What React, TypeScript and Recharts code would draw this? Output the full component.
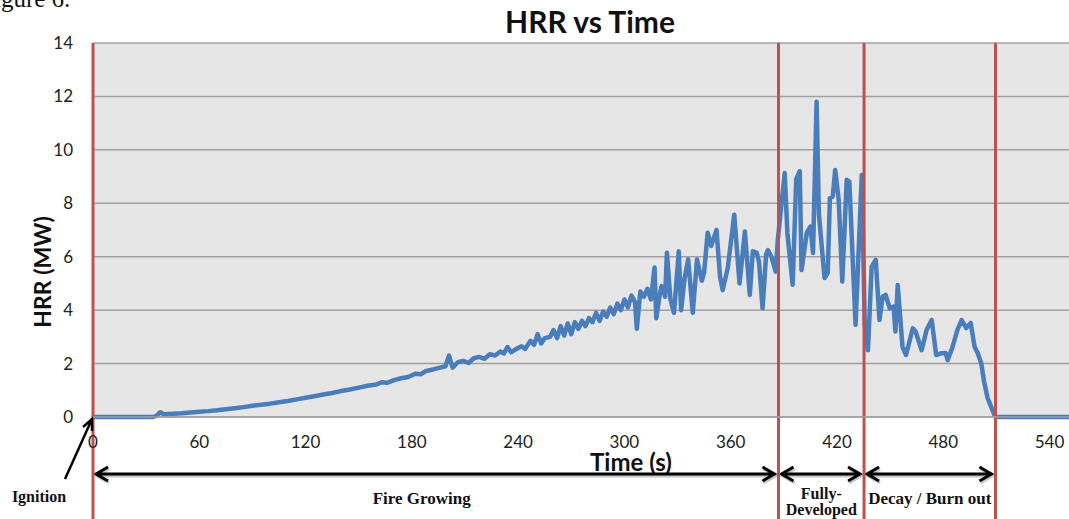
import { LineChart, Line, XAxis, YAxis, CartesianGrid, ReferenceLine, ReferenceArea, Customized } from "recharts";

// time (s) and heat release rate (MW)
const TIME = [
  0, 34, 36, 38, 40, 45, 50, 55, 60, 65, 70, 75, 80, 85, 90, 95, 100, 105, 110, 115,
  120, 125, 130, 135, 140, 145, 150, 155, 160, 163, 166, 170, 174, 178, 182, 185, 188, 192, 196, 199,
  201, 203, 206, 209, 212, 215, 218, 221, 224, 227, 230, 232, 234, 236, 239, 242, 244, 247, 249, 251,
  253, 255, 258, 260, 262, 264, 266, 268, 270, 272, 274, 276, 278, 280, 282, 284, 286, 288, 290, 292,
  294, 296, 298, 300, 302, 304, 306, 307, 309, 311, 313, 315, 317, 318, 320, 321, 323, 324, 326, 328,
  330.7, 332, 334, 336, 338.6, 341, 343.7, 345, 347, 349, 352, 354, 355.5, 358.4, 362, 365, 368, 370.8, 372.5, 374.7,
  376, 378, 380, 381, 383, 385.4, 386.6, 390.5, 392, 395, 397, 399, 400, 403, 405, 406.5, 408.5, 409.8, 413, 414.8,
  416, 417.6, 419, 421, 423, 425.5, 427, 430.5, 434, 435.7, 437.5, 439.6, 441.9, 444, 445.8, 447.5, 449.8, 452, 453, 454.3,
  457, 459, 462.8, 464.4, 467.8, 470.6, 473.5, 476, 479, 481.4, 482.5, 485, 488, 490.4, 493, 495.5, 497.7, 499.5, 501.5, 503,
  505, 508, 509.5, 551,
];
const HRR = [
  0, 0, 0.05, 0.18, 0.1, 0.12, 0.14, 0.17, 0.2, 0.22, 0.25, 0.29, 0.33, 0.37, 0.42, 0.46, 0.5, 0.55, 0.6, 0.66,
  0.72, 0.78, 0.84, 0.9, 0.97, 1.03, 1.1, 1.17, 1.22, 1.3, 1.28, 1.38, 1.45, 1.5, 1.62, 1.6, 1.72, 1.78, 1.85, 1.9,
  2.3, 1.85, 2.05, 2.1, 2.02, 2.2, 2.25, 2.18, 2.35, 2.3, 2.45, 2.38, 2.62, 2.42, 2.55, 2.65, 2.55, 2.85, 2.7, 3.1,
  2.75, 2.95, 3.0, 3.25, 2.95, 3.4, 3.05, 3.5, 3.1, 3.55, 3.3, 3.6, 3.4, 3.7, 3.55, 3.9, 3.6, 3.95, 3.75, 4.1,
  3.85, 4.25, 4.0, 4.4, 4.1, 4.55, 4.3, 3.3, 4.7, 4.5, 4.8, 4.4, 5.6, 3.7, 4.6, 4.9, 4.5, 6.15, 4.4, 3.9,
  6.2, 4.0, 5.2, 5.9, 3.9, 5.9, 5.1, 5.4, 6.9, 6.4, 7.0, 5.25, 4.75, 5.6, 7.57, 5.0, 6.94, 4.57, 6.2, 6.15,
  5.8, 4.08, 6.07, 6.25, 6.0, 5.44, 6.63, 9.13, 6.9, 4.95, 8.9, 9.2, 5.5, 6.9, 7.13, 6.14, 11.8, 7.6, 5.2, 5.4,
  8.2, 8.25, 9.25, 8.13, 5.07, 8.88, 8.81, 3.45, 9.06, 3.45, 2.5, 5.63, 5.88, 3.63, 4.5, 4.57, 4.07, 4.13, 3.2, 4.94,
  2.63, 2.32, 3.32, 3.2, 2.5, 3.26, 3.63, 2.32, 2.39, 2.4, 2.13, 2.57, 3.26, 3.63, 3.33, 3.52, 2.63, 2.39, 2.0, 1.35,
  0.72, 0.22, 0, 0,
];

const X_TICKS = [0, 60, 120, 180, 240, 300, 360, 420, 480, 540];
const Y_TICKS = [0, 2, 4, 6, 8, 10, 12, 14];

// phase boundaries (s) and their labels
const BOUNDS = [0, 387, 435.3, 509.5];
const PHASE_LABELS = [["Fire Growing"], ["Fully-", "Developed"], ["Decay / Burn out"]];

const data = TIME.map((t, i) => ({ t, hrr: HRR[i] }));

const RED = "#c0504d";
const BLUE = "#4a7ebb";
const SANS = "Lato, 'Open Sans', sans-serif";
const SERIF = "'Liberation Serif', 'DejaVu Serif', serif";

function chevron(x: number, y: number, dir: 1 | -1) {
  return `M${x - dir * 12},${y - 7} L${x},${y} L${x - dir * 12},${y + 7}`;
}

function PhaseArrow(p: any, i: number) {
  const left = p.x + 3;
  const right = p.x + p.width - 4;
  const y = p.y + p.height + 57;
  const cx = p.x + p.width / 2;
  const lines = PHASE_LABELS[i];
  const d = `M${left},${y} L${right},${y} ${chevron(left, y, -1)} ${chevron(right, y, 1)}`;
  return (
    <g>
      <path d={d} transform="translate(1,2)" stroke="#c8c8c8" strokeWidth={3} fill="none" />
      <path d={d} stroke="#000" strokeWidth={3} fill="none" strokeLinejoin="miter" />
      {lines.map((s, k) => (
        <text
          key={k}
          x={i === 0 ? cx - 14 : cx}
          y={y + (lines.length > 1 ? 25 + k * 16 : 30)}
          textAnchor="middle"
          fontFamily={SERIF}
          fontWeight="bold"
          fontSize={lines.length > 1 ? 16 : 17}
          fill="#111"
        >
          {s}
        </text>
      ))}
    </g>
  );
}

function BoundaryLine(p: any, first: boolean) {
  const top = Math.min(p.y1, p.y2);
  const bottom = Math.max(p.y1, p.y2);
  return (
    <g>
      <line x1={p.x1} x2={p.x1} y1={top} y2={519} stroke={RED} strokeWidth={3} />
      {first && (
        <g>
          <path
            d={`M${p.x1 - 28},${bottom + 62} L${p.x1 - 1},${bottom + 2} M${p.x1 - 10},${bottom + 10} L${p.x1 - 1},${bottom + 2} L${p.x1 - 1},${bottom + 14}`}
            stroke="#000"
            strokeWidth={2.5}
            fill="none"
          />
          <text x={p.x1 - 54} y={bottom + 85} textAnchor="middle" fontFamily={SERIF} fontWeight="bold" fontSize={16} fill="#111">
            Ignition
          </text>
        </g>
      )}
    </g>
  );
}

const Texts = () => (
  <g>
    <text x={-6} y={7} fontFamily={SERIF} fontSize={25} fill="#111">igure 6.</text>
    <text x={590} y={33} textAnchor="middle" fontFamily={SANS} fontWeight="bold" fontSize={30} fill="#111">
      HRR vs Time
    </text>
    <text x={631} y={471} textAnchor="middle" fontFamily={SANS} fontWeight="bold" fontSize={24} fill="#111">
      Time (s)
    </text>
    <text
      x={42}
      y={272}
      transform="rotate(-90 42 272)"
      textAnchor="middle"
      dominantBaseline="central"
      fontFamily={SANS}
      fontWeight="bold"
      fontSize={23}
      fill="#111"
    >
      HRR (MW)
    </text>
  </g>
);

export default function App() {
  return (
    <div style={{ position: "absolute", left: 0, top: 0, background: "#fff" }}>
      <LineChart width={1069} height={519} data={data} margin={{ top: 43, right: 0, bottom: 72, left: 0 }}>
        <CartesianGrid vertical={false} fill="#e6e6e6" stroke="#a0a0a0" strokeWidth={1.5} />
        <XAxis
          dataKey="t"
          type="number"
          domain={[0, 551]}
          ticks={X_TICKS}
          height={30}
          tickLine={false}
          tickSize={6}
          tickMargin={13}
          axisLine={{ stroke: "#a0a0a0", strokeWidth: 1.5 }}
          tick={{ fontFamily: SANS, fontSize: 17, fill: "#222" }}
        />
        <YAxis
          type="number"
          domain={[0, 14]}
          ticks={Y_TICKS}
          width={93}
          tickLine={false}
          axisLine={false}
          tickSize={6}
          tickMargin={14}
          tick={{ fontFamily: SANS, fontSize: 17, fill: "#222" }}
        />
        {PHASE_LABELS.map((_, i) => (
          <ReferenceArea key={i} x1={BOUNDS[i]} x2={BOUNDS[i + 1]} shape={(p: any) => PhaseArrow(p, i)} />
        ))}
        <Line
          dataKey="hrr"
          type="linear"
          stroke={BLUE}
          strokeWidth={4.5}
          strokeLinejoin="round"
          dot={false}
          isAnimationActive={false}
        />
        {BOUNDS.map((b, i) => (
          <ReferenceLine key={b} x={b} shape={(p: any) => BoundaryLine(p, i === 0)} />
        ))}
        <Customized component={Texts} />
      </LineChart>
    </div>
  );
}
